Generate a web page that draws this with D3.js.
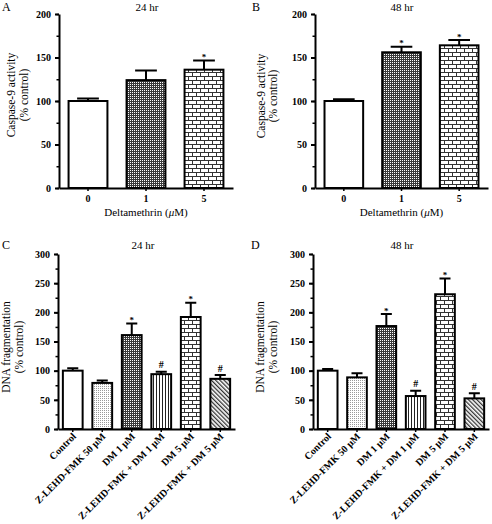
<!DOCTYPE html>
<html><head><meta charset="utf-8">
<script src="https://cdn.jsdelivr.net/npm/d3@7"></script>
<style>
body{margin:0;background:#fff}
svg{display:block}
text{font-family:"Liberation Serif","Times New Roman",serif;fill:#000}
</style>
</head><body><svg id="chart" width="492" height="524"></svg>
<script>
// ---------------- DATA ----------------
const casCategories = ["0", "1", "5"];
const cas24 = [100, 124, 136];
const cas24Err = [3, 11, 10.5];
const cas24Sig = ["", "", "*"];
const cas48 = [100, 156, 164];
const cas48Err = [2, 6.5, 6];
const cas48Sig = ["", "*", "*"];
const casTicks = [0, 50, 100, 150, 200];

const dnaCategories = ["Control", "Z-LEHD-FMK 50 \u03bcM", "DM 1 \u03bcM", "Z-LEHD-FMK + DM 1 \u03bcM", "DM 5 \u03bcM", "Z-LEHD-FMK + DM 5 \u03bcM"];
const dna24 = [100, 79, 161, 94, 192, 86];
const dna24Err = [4, 4, 20, 4, 24.5, 6.5];
const dna24Sig = ["", "", "*", "#", "*", "#"];
const dna48 = [100, 88.5, 176.5, 56.5, 231, 52.5];
const dna48Err = [3, 7, 20.5, 9, 27, 9];
const dna48Sig = ["", "", "*", "#", "*", "#"];
const dnaTicks = [0, 50, 100, 150, 200, 250, 300];

// ---------------- DRAWING ----------------
const svg = d3.select("#chart");
svg.append("rect").attr("width", 492).attr("height", 524).attr("fill", "#fff");
const defs = svg.append("defs");

// dense dark dots
let pt = defs.append("pattern").attr("id", "dots").attr("patternUnits", "userSpaceOnUse").attr("width", 2).attr("height", 2);
pt.append("rect").attr("width", 2).attr("height", 2).attr("fill", "#3a3a3a");
pt.append("rect").attr("width", 1).attr("height", 1).attr("fill", "#fff");
// light stipple
pt = defs.append("pattern").attr("id", "stipple").attr("patternUnits", "userSpaceOnUse").attr("width", 2).attr("height", 2);
pt.append("rect").attr("width", 2).attr("height", 2).attr("fill", "#fff");
pt.append("rect").attr("width", 1).attr("height", 1).attr("fill", "#999");
// brick
pt = defs.append("pattern").attr("id", "brick").attr("patternUnits", "userSpaceOnUse").attr("width", 8).attr("height", 8);
pt.append("rect").attr("width", 8).attr("height", 8).attr("fill", "#fff");
pt.append("path").attr("d", "M0,0.5H8M0,4.5H8M0.5,0V4.5M4.5,4.5V8").attr("stroke", "#333").attr("stroke-width", 1).attr("fill", "none");
// vertical lines
pt = defs.append("pattern").attr("id", "vlines").attr("patternUnits", "userSpaceOnUse").attr("width", 3).attr("height", 3);
pt.append("rect").attr("width", 3).attr("height", 3).attr("fill", "#fff");
pt.append("rect").attr("width", 1).attr("height", 3).attr("fill", "#222");
// diagonal lines
pt = defs.append("pattern").attr("id", "diag").attr("patternUnits", "userSpaceOnUse").attr("width", 3).attr("height", 3).attr("patternTransform", "rotate(-45)");
pt.append("rect").attr("width", 3).attr("height", 3).attr("fill", "#fff");
pt.append("rect").attr("width", 1.3).attr("height", 3).attr("fill", "#333");

const fillFor = {white: "#fff", dots: "url(#dots)", stipple: "url(#stipple)", brick: "url(#brick)", vlines: "url(#vlines)", diag: "url(#diag)"};

function drawPanel(p) {
  const g = svg.append("g");
  const x = d3.scaleBand().domain(p.cats).range([p.x0, p.x1]).paddingInner(0.33).paddingOuter(0.165);
  const y = d3.scaleLinear().domain([0, p.max]).range([p.y0, p.y1]);
  const bw = x.bandwidth();
  const rows = p.values.map((v, i) => ({c: p.cats[i], v, e: p.errs[i], s: p.sig[i], f: p.fills[i]}));

  // error bars
  const eg = g.append("g").attr("stroke", "#000").attr("stroke-width", 2).attr("fill", "none");
  eg.selectAll("path").data(rows).join("path")
    .attr("d", d => {
      const cx = x(d.c) + bw / 2, cw = bw * 0.28;
      return `M${cx},${y(d.v)}V${y(d.v + d.e)}M${cx - cw},${y(d.v + d.e)}H${cx + cw}`;
    });

  // bars
  g.selectAll("rect.bar").data(rows).join("rect").attr("class", "bar")
    .attr("x", d => x(d.c)).attr("y", d => y(d.v))
    .attr("width", bw).attr("height", d => y(0) - y(d.v))
    .attr("fill", d => fillFor[d.f]).attr("stroke", "#000").attr("stroke-width", 2);

  // significance markers
  g.selectAll("text.sig").data(rows.filter(d => d.s)).join("text").attr("class", "sig")
    .attr("x", d => x(d.c) + bw / 2).attr("y", d => y(d.v + d.e) - (d.s === "#" ? 3.5 : 0.5))
    .attr("text-anchor", "middle").attr("font-size", d => d.s === "#" ? 10 : 9)
    .attr("font-weight", "bold").text(d => d.s);

  // minor y ticks
  const minor = g.append("g").attr("transform", `translate(${p.x0},0)`)
    .call(d3.axisLeft(y).tickValues(d3.range(0, p.max + 1, 25)).tickSize(2.5).tickFormat(""));
  minor.select(".domain").remove();
  minor.selectAll("line").attr("stroke-width", 1.5);
  // major y axis
  const ya = g.append("g").attr("transform", `translate(${p.x0},0)`)
    .call(d3.axisLeft(y).tickValues(p.ticks).tickSize(4).tickSizeOuter(0).tickPadding(4));
  ya.select(".domain").attr("stroke-width", 2);
  ya.selectAll("line").attr("stroke-width", 2);
  ya.selectAll("text").attr("font-family", "Liberation Serif").attr("font-size", 10).attr("font-weight", "bold");

  // x axis
  const xa = g.append("g").attr("transform", `translate(0,${p.y0})`)
    .call(d3.axisBottom(x).tickSize(3).tickSizeOuter(0).tickFormat(""));
  xa.select(".domain").attr("stroke-width", 2);
  xa.selectAll("line").attr("stroke-width", 1.5);

  if (p.rotate) {
    g.selectAll("text.xl").data(p.cats).join("text").attr("class", "xl")
      .attr("transform", d => `translate(${x(d) + bw / 2 + 4},${p.y0 + 8}) rotate(-45)`)
      .attr("text-anchor", "end").attr("font-size", 10).attr("font-weight", "bold").text(d => d);
  } else {
    g.selectAll("text.xl").data(p.cats).join("text").attr("class", "xl")
      .attr("x", d => x(d) + bw / 2).attr("y", p.y0 + 14)
      .attr("text-anchor", "middle").attr("font-size", 10).attr("font-weight", "bold").text(d => d);
    const xt = g.append("text").attr("x", (p.x0 + p.x1) / 2).attr("y", p.y0 + 28)
      .attr("text-anchor", "middle").attr("font-size", 11);
    xt.append("tspan").text("Deltamethrin (");
    xt.append("tspan").attr("font-style", "italic").text("\u03bc");
    xt.append("tspan").text("M)");
  }

  // y title (two lines)
  p.ytitle.forEach((t, i) => {
    g.append("text").attr("transform", `translate(${p.ytx[i]},${p.yty}) rotate(-90)`)
      .attr("text-anchor", "middle").attr("font-size", 11.5).text(t);
  });
  // panel title and letter
  g.append("text").attr("x", p.tx).attr("y", p.ty).attr("text-anchor", "middle").attr("font-size", 11).text(p.title);
  g.append("text").attr("x", p.lx).attr("y", p.ty).attr("font-size", 12).text(p.letter);
}

drawPanel({cats: casCategories, values: cas24, errs: cas24Err, sig: cas24Sig, fills: ["white", "dots", "brick"],
  ticks: casTicks, max: 200, x0: 59, x1: 233, y0: 188, y1: 14, rotate: false,
  ytitle: ["Caspase-9 activity", "(% control)"], ytx: [15, 28], yty: 95,
  title: "24 hr", tx: 147, ty: 11, letter: "A", lx: 2});
drawPanel({cats: casCategories, values: cas48, errs: cas48Err, sig: cas48Sig, fills: ["white", "dots", "brick"],
  ticks: casTicks, max: 200, x0: 315, x1: 488, y0: 188, y1: 14, rotate: false,
  ytitle: ["Caspase-9 activity", "(% control)"], ytx: [265, 277], yty: 96,
  title: "48 hr", tx: 402, ty: 11, letter: "B", lx: 252});
drawPanel({cats: dnaCategories, values: dna24, errs: dna24Err, sig: dna24Sig, fills: ["white", "stipple", "dots", "vlines", "brick", "diag"],
  ticks: dnaTicks, max: 300, x0: 58, x1: 235, y0: 429, y1: 254, rotate: true,
  ytitle: ["DNA fragmentation", "(% control)"], ytx: [10, 23], yty: 347,
  title: "24 hr", tx: 143, ty: 249, letter: "C", lx: 2});
drawPanel({cats: dnaCategories, values: dna48, errs: dna48Err, sig: dna48Sig, fills: ["white", "stipple", "dots", "vlines", "brick", "diag"],
  ticks: dnaTicks, max: 300, x0: 313, x1: 489, y0: 429, y1: 254, rotate: true,
  ytitle: ["DNA fragmentation", "(% control)"], ytx: [264, 277], yty: 347,
  title: "48 hr", tx: 402, ty: 249, letter: "D", lx: 251});
</script>
</body></html>
